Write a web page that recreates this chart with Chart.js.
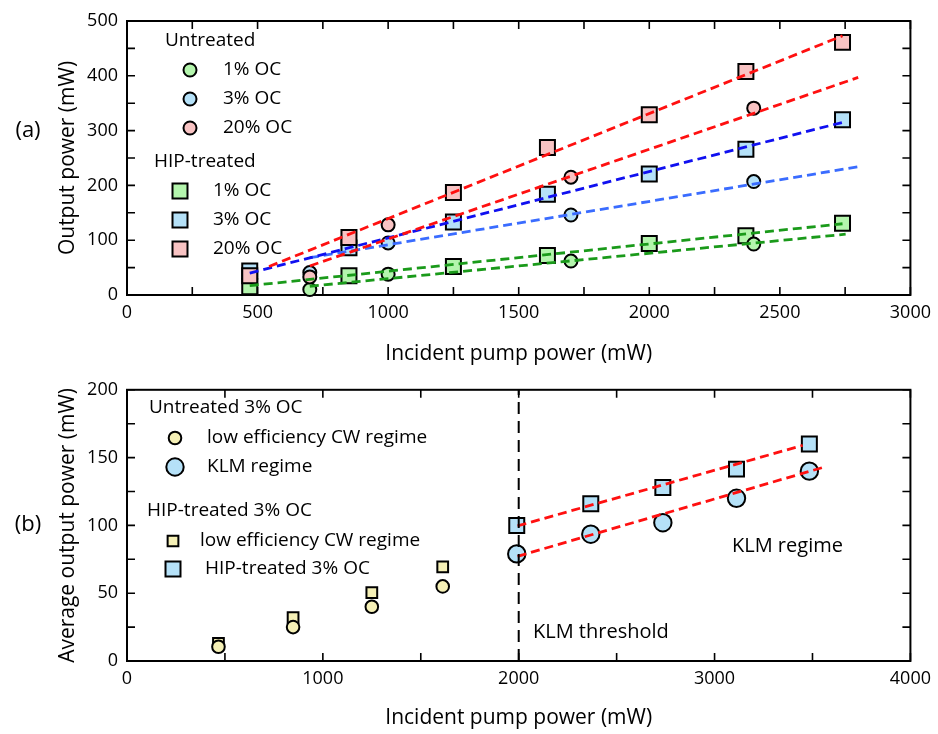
<!DOCTYPE html>
<html>
<head>
<meta charset="utf-8">
<script src="https://cdn.jsdelivr.net/npm/chart.js@4.4.0/dist/chart.umd.min.js"></script>
<style>
    html, body { margin: 0; padding: 0; background: #fff; }
    #wrap { position: relative; width: 938px; height: 734px; }
    canvas { position: absolute; left: 0; }
    #topChart { top: 0; }
    #bottomChart { top: 370px; }
</style>
</head>
<body>
<div id="wrap">
    <canvas id="topChart" width="938" height="370"></canvas>
    <canvas id="bottomChart" width="938" height="364"></canvas>
</div>
<script>
// ---------------------------------------------------------------------------
// Data (a): output power vs incident pump power
// ---------------------------------------------------------------------------
const hipPump = [470, 850, 1250, 1610, 2000, 2370, 2740];
const hip1 = [15, 35, 52, 72, 94, 108, 131];
const hip3 = [44, 86, 133, 184, 221, 266, 320];
const hip20 = [35, 105, 187, 269, 329, 408, 461];

const untPump = [700, 1000, 1700, 2400];
const unt1 = [10, 38, 62, 93];
const unt3 = [41, 95, 146, 207];
const unt20 = [33, 128, 215, 341];

// linear fits (end points)
const hip1FitX = [470, 2740], hip1FitY = [17, 130];
const hip3FitX = [470, 2740], hip3FitY = [40, 315];
const hip20FitX = [544, 2740], hip20FitY = [52, 473];
const unt1FitX = [700, 2752], unt1FitY = [16, 111];
const unt3FitX = [700, 2800], unt3FitY = [68, 234];
const unt20FitX = [700, 2800], unt20FitY = [53, 397];

// ---------------------------------------------------------------------------
// Data (b): average output power, 3% OC
// ---------------------------------------------------------------------------
const cwPump = [467, 848, 1250, 1612];
const cwUnt = [10.5, 25, 40, 55];
const cwHip = [13, 32, 50.5, 69.5];

const klmPump = [1990, 2368, 2736, 3112, 3484];
const klmUnt = [79, 93.5, 102, 120, 140];
const klmHip = [100, 116, 128, 141.5, 160];

const klmHipFitX = [1994, 3450], klmHipFitY = [99.6, 159];
const klmUntFitX = [1994, 3552], klmUntFitY = [77.2, 142.7];
const klmThresholdX = [2000, 2000], klmThresholdY = [0, 200];

// ---------------------------------------------------------------------------
// Style
// ---------------------------------------------------------------------------
const colors = {
    greenFill: '#b4f5ad',
    blueFill: '#b5e1f8',
    pinkFill: '#f8c3c3',
    yellowFill: '#f5f0b6',
    red: '#ff1010',
    blueDark: '#1010f0',
    blueLight: '#3a6cff',
    green: '#1a9a1a'
};
const FONT = "'Open Sans', sans-serif";
Chart.defaults.font.family = FONT;
Chart.defaults.color = '#000';

const pts = (xs, ys) => xs.map((x, i) => ({ x: x, y: ys[i] }));

function markers(label, xs, ys, style, radius, fill, order) {
    return {
        type: 'scatter', label: label, data: pts(xs, ys),
        pointStyle: style, pointRadius: radius, pointHoverRadius: radius,
        pointBackgroundColor: fill, pointBorderColor: '#000', pointBorderWidth: 2,
        showLine: false, order: order, clip: false
    };
}

function fitLine(label, xs, ys, color, order, dash, width) {
    return {
        type: 'line', label: label, data: pts(xs, ys),
        borderColor: color, borderWidth: width || 2.8, borderDash: dash || [9, 5],
        pointRadius: 0, fill: false, order: order, clip: false
    };
}

function drawMarker(ctx, style, x, y, r, fill) {
    ctx.beginPath();
    if (style === 'rect') {
        const s = r * Math.SQRT1_2;
        ctx.rect(x - s, y - s, 2 * s, 2 * s);
    } else {
        ctx.arc(x, y, r, 0, Math.PI * 2);
    }
    ctx.fillStyle = fill;
    ctx.fill();
    ctx.lineWidth = 2;
    ctx.strokeStyle = '#000';
    ctx.stroke();
}

// frame round the plot area with inward ticks on all four sides
const frameTicks = {
    id: 'frameTicks',
    beforeDatasetsDraw(chart) {
        const { ctx, chartArea: a, scales } = chart;
        ctx.save();
        ctx.strokeStyle = '#000';
        ctx.lineWidth = 1.6;
        ctx.beginPath();
        scales.x.ticks.forEach(t => {
            const px = scales.x.getPixelForValue(t.value);
            ctx.moveTo(px, a.bottom); ctx.lineTo(px, a.bottom - 8);
            ctx.moveTo(px, a.top); ctx.lineTo(px, a.top + 8);
        });
        scales.y.ticks.forEach(t => {
            const py = scales.y.getPixelForValue(t.value);
            ctx.moveTo(a.left, py); ctx.lineTo(a.left + 8, py);
            ctx.moveTo(a.right, py); ctx.lineTo(a.right - 8, py);
        });
        ctx.stroke();
        ctx.lineWidth = 2;
        ctx.strokeRect(a.left, a.top, a.right - a.left, a.bottom - a.top);
        ctx.restore();
    }
};

function axisOptions(xMax, xStep, xLabelEvery, yMax, yStep, yLabelEvery, xTitle, yTitle, xHeight) {
    return {
        x: {
            type: 'linear', min: 0, max: xMax,
            ticks: {
                stepSize: xStep, autoSkip: false, maxRotation: 0, padding: 7,
                font: { size: 18 },
                callback: v => (v % xLabelEvery === 0 ? v : '')
            },
            grid: { display: false, drawTicks: false },
            border: { display: false },
            title: { display: true, text: xTitle, font: { size: 21 }, padding: { top: 0, bottom: 3 } },
            afterFit: s => { s.height = xHeight; }
        },
        y: {
            type: 'linear', min: 0, max: yMax,
            ticks: {
                stepSize: yStep, autoSkip: false, padding: 9,
                font: { size: 18 },
                callback: v => (v % yLabelEvery === 0 ? v : '')
            },
            grid: { display: false, drawTicks: false },
            border: { display: false },
            title: { display: true, text: yTitle, font: { size: 21 }, padding: { top: 55, bottom: 0 } },
            afterFit: s => { s.width = 127; }
        }
    };
}

const commonPlugins = {
    legend: { display: false },
    tooltip: { enabled: false }
};

// ============================================================================
// (a) Output power
// ============================================================================
const topDecor = {
    id: 'topDecor',
    afterDraw(chart) {
        const ctx = chart.ctx;
        ctx.save();
        ctx.fillStyle = '#000';
        ctx.textBaseline = 'middle';
        ctx.textAlign = 'center';
        ctx.font = '22px ' + FONT;
        ctx.fillText('(a)', 28, 131);

        ctx.textAlign = 'left';
        ctx.font = '19px ' + FONT;
        ctx.fillText('Untreated', 165, 41);
        ctx.fillText('HIP-treated', 154, 162);
        const rows = [
            ['circle', 6.5, colors.greenFill, '1% OC', 190, 70, 223],
            ['circle', 6.5, colors.blueFill, '3% OC', 190, 99, 223],
            ['circle', 6.5, colors.pinkFill, '20% OC', 190, 128, 223],
            ['rect', 10.6, colors.greenFill, '1% OC', 180, 191, 213],
            ['rect', 10.6, colors.blueFill, '3% OC', 180, 220, 213],
            ['rect', 10.6, colors.pinkFill, '20% OC', 180, 249, 213]
        ];
        rows.forEach(r => {
            drawMarker(ctx, r[0], r[4], r[5], r[1], r[2]);
            ctx.fillStyle = '#000';
            ctx.fillText(r[3], r[6], r[5]);
        });
        ctx.restore();
    }
};

new Chart(document.getElementById('topChart'), {
    type: 'scatter',
    data: {
        datasets: [
            fitLine('HIP 20% fit', hip20FitX, hip20FitY, colors.red, 0),
            fitLine('Untreated 20% fit', unt20FitX, unt20FitY, colors.red, 0),
            fitLine('HIP 3% fit', hip3FitX, hip3FitY, colors.blueDark, 0),
            fitLine('Untreated 3% fit', unt3FitX, unt3FitY, colors.blueLight, 0),
            fitLine('HIP 1% fit', hip1FitX, hip1FitY, colors.green, 0),
            fitLine('Untreated 1% fit', unt1FitX, unt1FitY, colors.green, 0),
            markers('Untreated 20% OC', untPump, unt20, 'circle', 6.5, colors.pinkFill, 1),
            markers('Untreated 3% OC', untPump, unt3, 'circle', 6.5, colors.blueFill, 2),
            markers('Untreated 1% OC', untPump, unt1, 'circle', 6.5, colors.greenFill, 3),
            markers('HIP 20% OC', hipPump, hip20, 'rect', 10.6, colors.pinkFill, 4),
            markers('HIP 3% OC', hipPump, hip3, 'rect', 10.6, colors.blueFill, 5),
            markers('HIP 1% OC', hipPump, hip1, 'rect', 10.6, colors.greenFill, 6)
        ]
    },
    options: {
        responsive: false,
        animation: false,
        events: [],
        layout: { padding: { top: 21, right: 23, left: 0, bottom: 0 } },
        scales: axisOptions(3000, 250, 500, 500, 50, 100, 'Incident pump power (mW)', 'Output power (mW)', 75),
        plugins: commonPlugins
    },
    plugins: [frameTicks, topDecor]
});

// ============================================================================
// (b) Average output power, KLM
// ============================================================================
const bottomDecor = {
    id: 'bottomDecor',
    afterDraw(chart) {
        const ctx = chart.ctx;
        ctx.save();
        ctx.fillStyle = '#000';
        ctx.textBaseline = 'middle';
        ctx.textAlign = 'center';
        ctx.font = '22px ' + FONT;
        ctx.fillText('(b)', 28, 155);

        ctx.textAlign = 'left';
        ctx.font = '19px ' + FONT;
        ctx.fillText('Untreated 3% OC', 149, 38);
        ctx.fillText('HIP-treated 3% OC', 147, 141);
        const rows = [
            ['circle', 6.3, colors.yellowFill, 'low efficiency CW regime', 175, 68, 207],
            ['circle', 8.7, colors.blueFill, 'KLM regime', 175, 97, 207],
            ['rect', 7.6, colors.yellowFill, 'low efficiency CW regime', 173, 171, 200],
            ['rect', 10.6, colors.blueFill, 'HIP-treated 3% OC', 173, 199, 205]
        ];
        rows.forEach(r => {
            drawMarker(ctx, r[0], r[4], r[5], r[1], r[2]);
            ctx.fillStyle = '#000';
            ctx.fillText(r[3], r[6], r[5]);
        });

        ctx.font = '20px ' + FONT;
        ctx.fillText('KLM regime', 732, 176);
        ctx.fillText('KLM threshold', 533, 262);
        ctx.restore();
    }
};

new Chart(document.getElementById('bottomChart'), {
    type: 'scatter',
    data: {
        datasets: [
            fitLine('KLM threshold', klmThresholdX, klmThresholdY, '#000', 0, [12, 7], 2),
            fitLine('HIP KLM fit', klmHipFitX, klmHipFitY, colors.red, 1),
            fitLine('Untreated KLM fit', klmUntFitX, klmUntFitY, colors.red, 1),
            markers('Untreated KLM', klmPump, klmUnt, 'circle', 8.7, colors.blueFill, 2),
            markers('HIP KLM', klmPump, klmHip, 'rect', 10.6, colors.blueFill, 3),
            markers('Untreated CW', cwPump, cwUnt, 'circle', 6.3, colors.yellowFill, 4),
            markers('HIP CW', cwPump, cwHip, 'rect', 7.6, colors.yellowFill, 5)
        ]
    },
    options: {
        responsive: false,
        animation: false,
        events: [],
        layout: { padding: { top: 15, right: 23, left: 0, bottom: 0 } },
        scales: axisOptions(4000, 500, 1000, 200, 25, 50, 'Incident pump power (mW)', 'Average output power (mW)', 73),
        plugins: commonPlugins
    },
    plugins: [frameTicks, bottomDecor]
});

console.log('Charts initialized');
</script>
</body>
</html>
